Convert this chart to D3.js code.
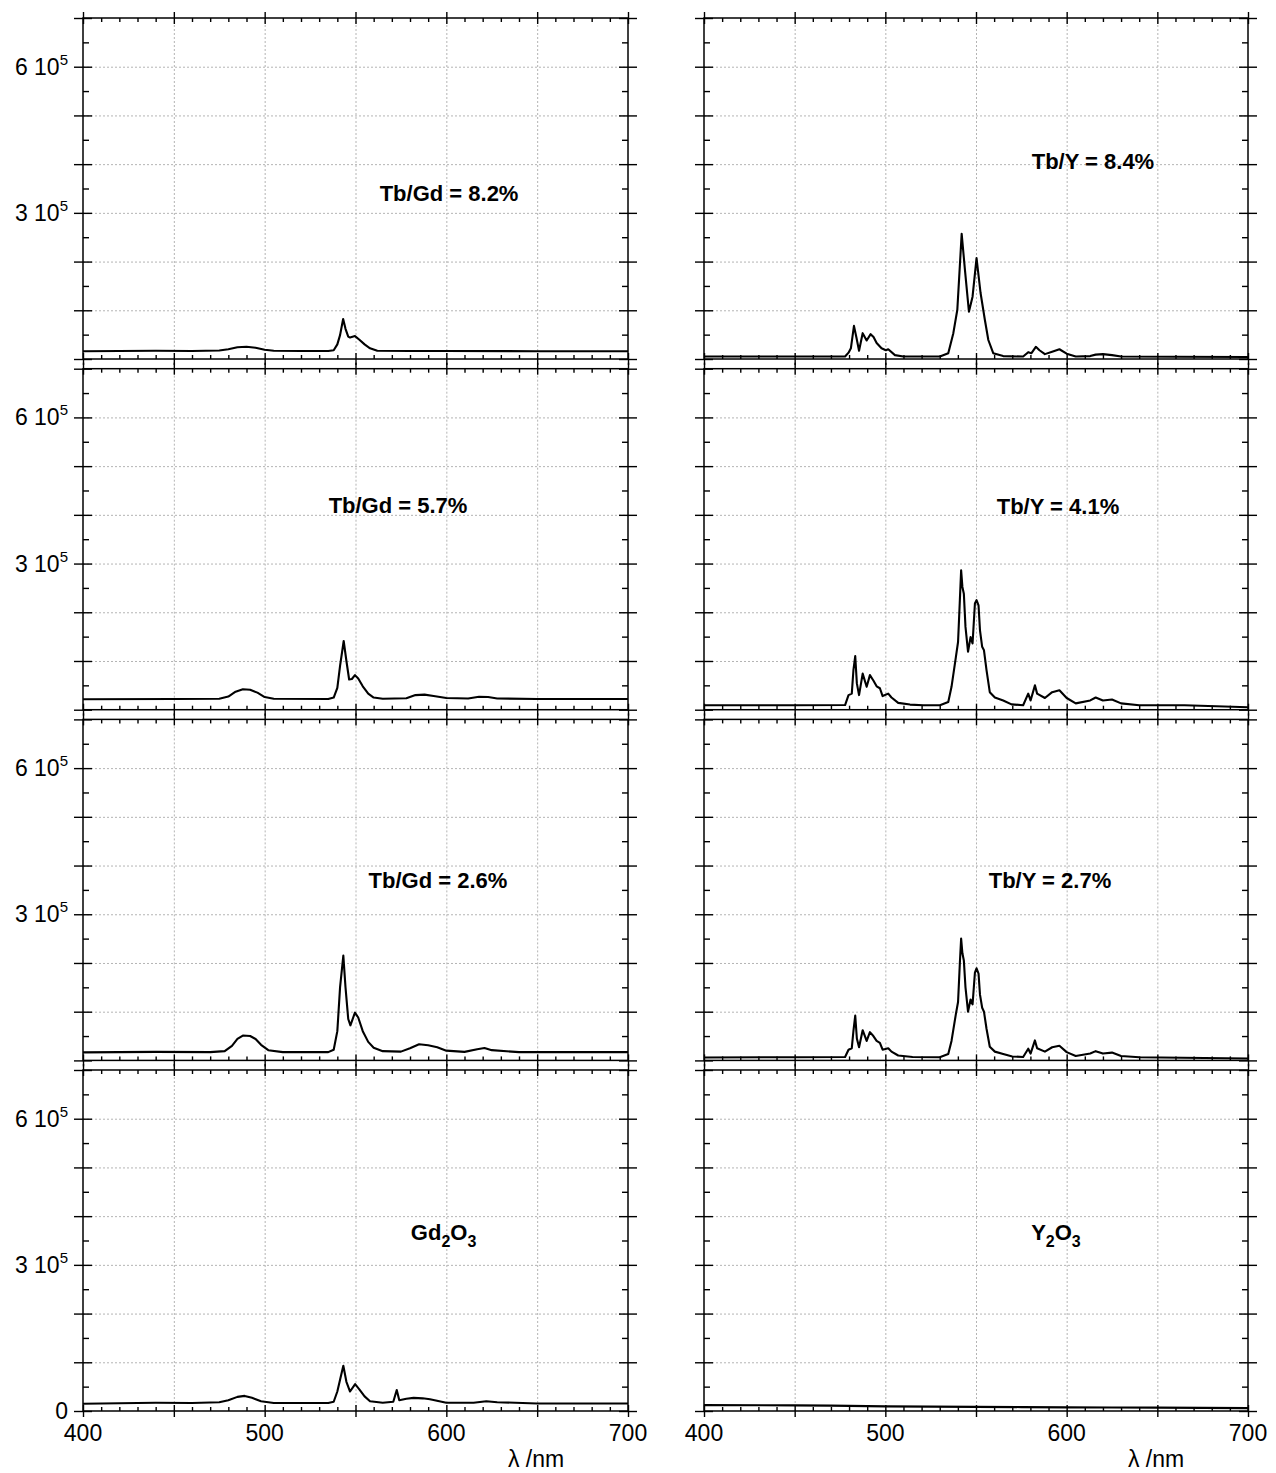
<!DOCTYPE html>
<html><head><meta charset="utf-8">
<script src="https://cdn.jsdelivr.net/npm/d3@7"></script>
<style>
body{margin:0;background:#fff}
svg{display:block}
text{font-family:"Liberation Sans",Arial,Helvetica,sans-serif;fill:#000}
</style>
</head><body>
<svg id="chart" width="1276" height="1473"></svg>
<script>
// ---------- data ----------
const wavelengthDomain = [400, 700];
const intensityDomain = [0, 700000];
const xTickLabels = [400, 500, 600, 700];
const yTickLabels = [300000, 600000];
const gridX = [450, 500, 550, 600, 650];
const gridY = [100000, 200000, 300000, 400000, 500000, 600000];
const xMajorTicks = [400, 450, 500, 550, 600, 650, 700];
const xMinorTicks = d3.range(410, 700, 10).filter(v => v % 50 !== 0);
const yMajorTicks = [0, 100000, 200000, 300000, 400000, 500000, 600000, 700000];
const yMinorTicks = [50000, 150000, 250000, 350000, 450000, 550000, 650000];

const tbGd82 = [[400,16000],[420,16500],[440,17000],[460,16500],[475,17500],[480,20000],[485,24000],[490,25000],[495,23000],[500,19000],[505,17000],[520,16500],[535,16500],[538,18000],[540,30000],[541.5,49000],[543.2,82000],[544.5,62000],[546,46000],[547,44000],[549.7,47000],[552,40000],[555,30000],[558,22000],[562,17000],[580,16500],[600,16500],[650,16000],[700,16000]];
const tbGd57 = [[400,21500],[450,22000],[475,22500],[480,27000],[484,37000],[488,42000],[492,41000],[496,35000],[500,26000],[505,22500],[535,22000],[538,25000],[540,45000],[541.5,90000],[543.5,141000],[545,100000],[546.5,62000],[548,63000],[549.7,71000],[551.5,64000],[554,48000],[557,33000],[560,25000],[565,22500],[578,23500],[583,30000],[588,31000],[593,28000],[600,24000],[612,23000],[618,26500],[623,26000],[628,23000],[650,22000],[700,22000]];
const tbGd26 = [[400,16500],[440,17500],[470,17000],[478,19000],[482,30000],[485,44000],[488,51000],[492,50000],[495,44000],[498,32000],[502,21000],[510,17000],[535,17000],[538,22000],[540,60000],[541.5,150000],[543.3,215000],[544.5,150000],[546,85000],[547.2,72000],[549.7,98000],[551.5,88000],[554,60000],[557,38000],[560,26000],[565,19000],[575,18000],[580,25000],[585,33000],[590,31000],[595,27000],[600,20000],[610,17500],[617,23000],[621,25500],[625,21000],[640,17000],[700,17000]];
const gd2o3 = [[400,15000],[420,16000],[440,17000],[460,16500],[475,18000],[480,22000],[485,29000],[489,31000],[493,27000],[498,20000],[505,16500],[535,16500],[538,19000],[540,40000],[541.5,64000],[543.3,93000],[545,60000],[547,40000],[549.8,55000],[552,45000],[555,30000],[558,20000],[565,17000],[570.8,19000],[572.7,43000],[574.1,22000],[578,25000],[582,27000],[587,26000],[591,24000],[600,17000],[615,17000],[622,20000],[628,18000],[650,15500],[700,15500]];
const tbY84 = [[400,5000],[460,5000],[477.8,5000],[479.7,13000],[481,22000],[482.7,68000],[484,45000],[485.5,17000],[487.5,53000],[489.7,38000],[491.9,51000],[493.5,45000],[495.2,33000],[497.9,22000],[500.3,18000],[501.6,20000],[505.3,8000],[509.9,5000],[530.1,5000],[534.7,12000],[537.5,53000],[539.7,101000],[542.1,257000],[543.9,183000],[546.1,97000],[548.1,128000],[550.3,207000],[552.5,136000],[554.9,80000],[556.8,39000],[559.5,12000],[565,6000],[576,5000],[578.8,14000],[580.6,12000],[583,25000],[585,18000],[588,10000],[592,15000],[596,20000],[600,11000],[605,5000],[613,6000],[616,9000],[620,10000],[625,8000],[630,5000],[660,4500],[700,4000]];
const tbY41 = [[400,9000],[450,9000],[477.8,9500],[479.7,30000],[481.5,33000],[482.4,81000],[483.4,110000],[484.3,54000],[485.5,30000],[487.5,74000],[489.7,47000],[491.5,71000],[493.4,60000],[495.2,48000],[497,44000],[498.5,28000],[501.6,33000],[503.4,25000],[507.1,14000],[513.6,10500],[520.9,9200],[530.1,9200],[534.7,16000],[536.5,47000],[538.9,108000],[540.1,139000],[541.1,225000],[541.8,286000],[542.5,252000],[543.3,238000],[544.2,170000],[545.6,119000],[547,149000],[548.1,136000],[549.4,218000],[550.3,225000],[551.4,214000],[552.2,163000],[553.4,129000],[554.4,122000],[555.8,81000],[557.6,36000],[560.4,25000],[565,19000],[569.6,11000],[576,9200],[578.8,33000],[580.1,19000],[582.5,50000],[583.7,33000],[588,24000],[592,36000],[596,40000],[600,24000],[605,13000],[613,19000],[616,25000],[620,19000],[625,21000],[630,13000],[640,9000],[665,9000],[700,5000]];
const tbY27 = [[400,6000],[450,6500],[477.8,7000],[479.7,22000],[481.5,25000],[482.4,60000],[483.4,92000],[484.3,45000],[485.5,27000],[487.5,62000],[489.7,40000],[491.5,58000],[493.4,50000],[495.2,40000],[497,36000],[498.5,22000],[501.6,25000],[503.4,18000],[507.1,10000],[515,7000],[530,6500],[534.7,13000],[536.5,40000],[538.9,95000],[540.1,120000],[541.1,200000],[541.8,250000],[542.5,220000],[543.3,205000],[544.2,150000],[545.6,100000],[547,125000],[548.1,115000],[549.4,180000],[550.3,189000],[551.4,178000],[552.2,135000],[553.4,108000],[554.4,100000],[555.8,65000],[557.6,28000],[560.4,18000],[565,13000],[570,8000],[576,7000],[578.8,24000],[580.1,14000],[582.5,41000],[583.7,25000],[588,18000],[592,27000],[596,30000],[600,17000],[605,9000],[613,14000],[616,19000],[620,14000],[625,16000],[630,9000],[640,6500],[700,4000]];
const y2o3 = [[400,12000],[450,11500],[470,11000],[500,9500],[525,9000],[550,8500],[575,8000],[600,7500],[625,7200],[650,7000],[675,6500],[700,6000]];

// labels: segments [text, isSubscript]; position in data coords (nm, counts)
const panelLabels = [
  {seg:[["Tb/Gd = 8.2%",0]], at:[601.5,341000]},
  {seg:[["Tb/Gd = 5.7%",0]], at:[573.4,420000]},
  {seg:[["Tb/Gd = 2.6%",0]], at:[595.4,370000]},
  {seg:[["Gd",0],["2",1],["O",0],["3",1]], at:[598.5,367000]},
  {seg:[["Tb/Y = 8.4%",0]], at:[614.5,406000]},
  {seg:[["Tb/Y = 4.1%",0]], at:[595.2,418000]},
  {seg:[["Tb/Y = 2.7%",0]], at:[590.8,370000]},
  {seg:[["Y",0],["2",1],["O",0],["3",1]], at:[594.1,367000]}
];
const panelSeries = [tbGd82, tbGd57, tbGd26, gd2o3, tbY84, tbY41, tbY27, y2o3];

// ---------- layout ----------
const colLeft = [83, 704], colWidth = [545, 544];
const rowBottom = [359, 709.7, 1060.4, 1411];
const panelH = 341;

const svg = d3.select("#chart");

function cleanAxis(g){ g.select(".domain").remove(); return g; }

panelSeries.forEach((data, i) => {
  const col = Math.floor(i / 4), row = i % 4;
  const x0 = colLeft[col], w = colWidth[col];
  const yb = rowBottom[row], yt = yb - panelH;
  const x = d3.scaleLinear().domain(wavelengthDomain).range([x0, x0 + w]);
  const y = d3.scaleLinear().domain(intensityDomain).range([yb, yt]);
  const g = svg.append("g");

  // grid
  const grid = g.append("g").attr("class","grid");
  grid.append("g").attr("transform",`translate(0,${yb})`)
    .call(d3.axisBottom(x).tickValues(gridX).tickSize(-panelH).tickFormat(""))
    .call(cleanAxis);
  grid.append("g").attr("transform",`translate(${x0},0)`)
    .call(d3.axisRight(y).tickValues(gridY).tickSize(w).tickFormat(""))
    .call(cleanAxis);
  grid.selectAll("line").attr("stroke","#b4b4b4").attr("stroke-width",1).attr("stroke-dasharray","2,2");

  // spectrum
  const line = d3.line().x(d => x(d[0])).y(d => y(d[1]));
  g.append("path").datum(data).attr("d", line)
    .attr("fill","none").attr("stroke","#000").attr("stroke-width",2.1).attr("stroke-linejoin","round");

  // frame
  g.append("rect").attr("x",x0).attr("y",yt).attr("width",w).attr("height",panelH)
    .attr("fill","none").attr("stroke","#000").attr("stroke-width",1.5);

  const ticks = g.append("g").attr("class","ticks");
  // x major (crossing) top & bottom
  [yb, yt].forEach(yy => {
    ticks.append("g").attr("transform",`translate(0,${yy})`).call(d3.axisBottom(x).tickValues(xMajorTicks).tickSize(6).tickFormat("")).call(cleanAxis);
    ticks.append("g").attr("transform",`translate(0,${yy})`).call(d3.axisTop(x).tickValues(xMajorTicks).tickSize(6).tickFormat("")).call(cleanAxis);
  });
  // x minor (inside)
  ticks.append("g").attr("transform",`translate(0,${yb})`).call(d3.axisTop(x).tickValues(xMinorTicks).tickSize(4).tickFormat("")).call(cleanAxis);
  ticks.append("g").attr("transform",`translate(0,${yt})`).call(d3.axisBottom(x).tickValues(xMinorTicks).tickSize(4).tickFormat("")).call(cleanAxis);
  // y major (crossing) left & right
  [x0, x0 + w].forEach(xx => {
    ticks.append("g").attr("transform",`translate(${xx},0)`).call(d3.axisLeft(y).tickValues(yMajorTicks).tickSize(9).tickFormat("")).call(cleanAxis);
    ticks.append("g").attr("transform",`translate(${xx},0)`).call(d3.axisRight(y).tickValues(yMajorTicks).tickSize(9).tickFormat("")).call(cleanAxis);
  });
  // y minor (inside)
  ticks.append("g").attr("transform",`translate(${x0},0)`).call(d3.axisRight(y).tickValues(yMinorTicks).tickSize(6).tickFormat("")).call(cleanAxis);
  ticks.append("g").attr("transform",`translate(${x0+w},0)`).call(d3.axisLeft(y).tickValues(yMinorTicks).tickSize(6).tickFormat("")).call(cleanAxis);
  ticks.selectAll("line").attr("stroke","#000").attr("stroke-width",1.4);

  // y tick labels (left column only)
  if (col === 0) {
    const yl = row === 3 ? [0, ...yTickLabels] : yTickLabels;
    yl.forEach(v => {
      const t = g.append("text").attr("x", x0 - 15).attr("y", y(v) + 8)
        .attr("text-anchor","end").attr("font-size",23);
      if (v === 0) { t.text("0"); }
      else {
        t.append("tspan").text(`${v / 100000} 10`);
        t.append("tspan").attr("dy",-10).attr("font-size",15).text("5");
      }
    });
  }
  // x tick labels and axis title (bottom row)
  if (row === 3) {
    xTickLabels.forEach(v => {
      g.append("text").attr("x", x(v)).attr("y", yb + 30).attr("text-anchor","middle")
        .attr("font-size",23).text(v);
    });
    g.append("text").attr("x", x(700) - 92).attr("y", yb + 56).attr("text-anchor","middle")
      .attr("font-size",23).text("λ /nm");
  }

  // panel label
  const L = panelLabels[i];
  const lt = g.append("text").attr("x", x(L.at[0])).attr("y", y(L.at[1]) + 8)
    .attr("text-anchor","middle").attr("font-size",22).attr("font-weight","bold");
  let sub = false;
  L.seg.forEach(([s, isSub]) => {
    const ts = lt.append("tspan").text(s);
    if (isSub && !sub) { ts.attr("dy",7).attr("font-size",16); sub = true; }
    else if (isSub) { ts.attr("font-size",16); }
    else if (sub) { ts.attr("dy",-7); sub = false; }
  });
});
</script>
</body></html>
